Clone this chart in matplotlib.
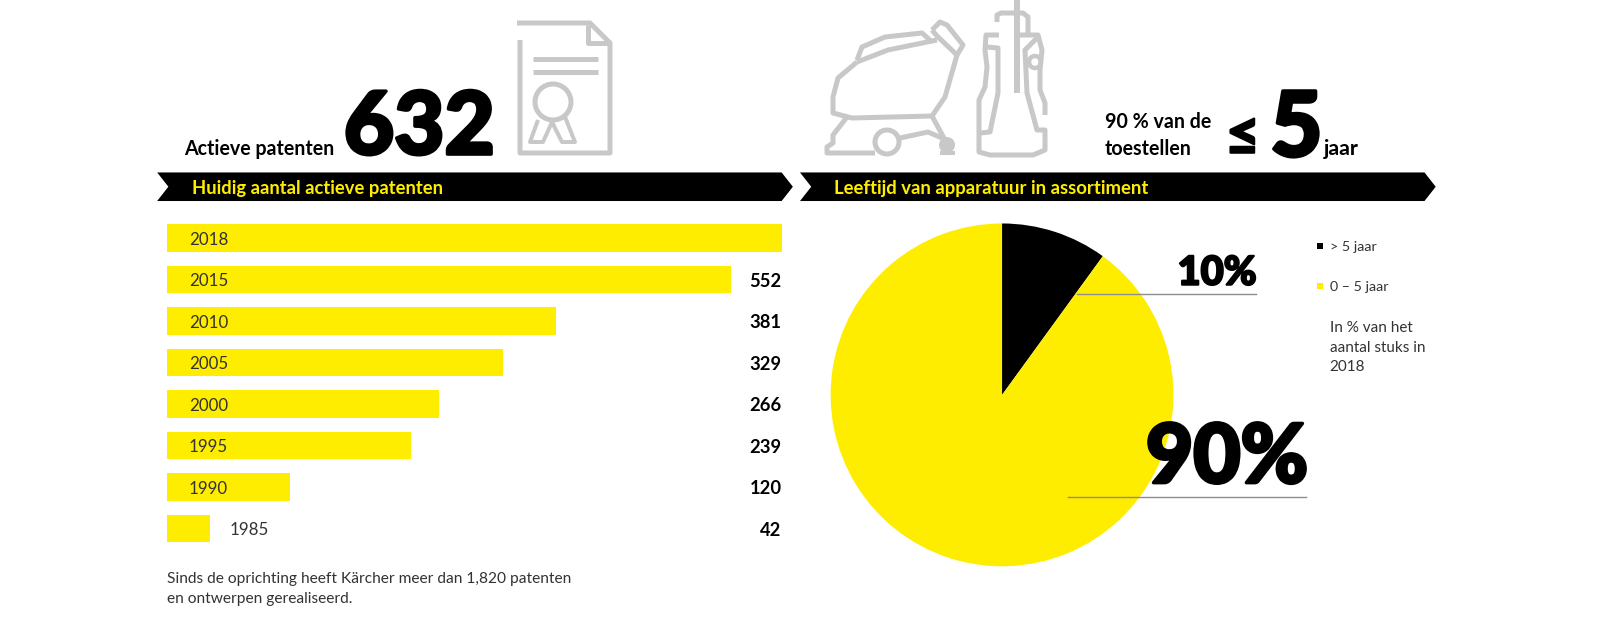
import matplotlib
matplotlib.use("Agg")
import matplotlib.pyplot as plt
import matplotlib.patheffects as pe
from matplotlib.patches import Polygon, Circle, Rectangle

W, H = 1600, 632
VIEW = 1568 / 1600  # layout below was measured on a 1568 wide view of the picture
VW, VH = W * VIEW, H * VIEW
YELLOW = "#FFED00"
GREY = "#C8C8C8"
DARK = "#333333"

# data
years = ["2018", "2015", "2010", "2005", "2000", "1995", "1990", "1985"]
patents = [632, 552, 381, 329, 266, 239, 120, 42]
patent_labels = ["", "552", "381", "329", "266", "239", "120", "42"]
age_labels = ["> 5 jaar", "0 – 5 jaar"]
age_shares = [10, 90]
age_colors = ["black", YELLOW]

plt.rcParams["font.family"] = ["Lato", "DejaVu Sans"]
fig = plt.figure(figsize=(W / 100, H / 100), dpi=100)


def view_axes(x0, y0, x1, y1, **kw):
    return fig.add_axes([x0 / VW, 1 - y1 / VH, (x1 - x0) / VW, (y1 - y0) / VH], **kw)


def fsize(px):
    return px * 0.72 / VIEW


# overlay for ribbons and headings
deco = view_axes(0, 0, VW, VH, zorder=3)
deco.set_xlim(0, VW)
deco.set_ylim(VH, 0)
deco.axis("off")

# icons are traced in real pixels
art = view_axes(0, 0, VW, VH, zorder=3)
art.set_xlim(0, W)
art.set_ylim(H, 0)
art.axis("off")


def txt(x, y, s, size, weight="normal", color="black", ha="left", heavy=0):
    t = deco.text(x, y, s, fontsize=fsize(size), fontweight=weight, color=color, ha=ha, va="baseline")
    if heavy:
        t.set_path_effects([pe.withStroke(linewidth=heavy, foreground=color)])


def ribbon(x0, x1):
    deco.add_patch(Polygon([(x0, 169), (x1 - 11, 169), (x1, 183), (x1 - 11, 197), (x0, 197), (x0 + 11, 183)],
                           fc="black", ec="none"))


def icon(points, lw=5):
    xs = [p[0] for p in points]
    ys = [p[1] for p in points]
    art.plot(xs, ys, color=GREY, lw=lw * 0.72, solid_joinstyle="round", solid_capstyle="butt")


ribbon(154, 777)
ribbon(784, 1407)
txt(188, 190, "Huidig aantal actieve patenten", 18, "bold", YELLOW)
txt(817, 190, "Leeftijd van apparatuur in assortiment", 18.2, "bold", YELLOW)

# left header
txt(180, 152, "Actieve patenten", 19.2, "bold")
txt(337, 151, "632", 85, 900, heavy=2.5)

# certificate icon
icon([(517, 23), (590, 23), (610, 43), (610, 153), (520, 153), (520, 40)])
icon([(588, 25), (588, 43), (610, 43)])
icon([(533, 59), (598, 59)])
icon([(533, 72), (598, 72)])
art.add_patch(Circle((553, 102), 18, fc="none", ec=GREY, lw=3.6))
icon([(538, 120), (530, 142), (543, 142), (552, 122), (562, 142), (575, 142), (565, 117)], 4)

# sweeper icon
icon([(857, 60), (862, 47), (885, 37), (922, 33), (932, 42)])
icon([(857, 62), (888, 50), (937, 40)])
icon([(857, 62), (838, 78), (833, 97), (833, 113), (852, 118), (932, 116), (945, 97), (957, 55)])
icon([(847, 117), (833, 135), (833, 143), (827, 147), (827, 153), (875, 153)])
icon([(932, 30), (940, 22), (947, 25), (963, 45), (957, 55), (937, 36), (932, 30)])
icon([(932, 116), (945, 140)])
icon([(900, 138), (928, 132), (942, 138)])
art.add_patch(Circle((887, 142), 12, fc="none", ec=GREY, lw=3.6))
art.add_patch(Circle((947, 145), 8, fc=GREY, ec="none"))
icon([(940, 153), (955, 153)], 4)

# pressure washer icon
icon([(1017, 0), (1017, 93)], 6)
icon([(997, 22), (997, 15), (1001, 13), (1023, 13), (1028, 17), (1028, 33)])
icon([(999, 35), (986, 35), (985, 50), (987, 67), (985, 87), (979, 100), (979, 152), (990, 155), (1033, 155),
      (1045, 150), (1045, 130), (1037, 130), (1027, 93), (1025, 50), (1037, 38)])
icon([(1018, 35), (1038, 35), (1042, 50), (1040, 70), (1040, 90), (1045, 103), (1045, 115)])
icon([(987, 47), (998, 48), (998, 93), (990, 132), (980, 133)])
art.add_patch(Circle((1035, 62), 6, fc="white", ec=GREY, lw=3.2))

# right header
txt(1083, 125, "90 % van de", 19.2, "bold")
txt(1083, 152, "toestellen", 19.2, "bold")
txt(1201, 152, "≤", 58, 900, heavy=1.5)
txt(1245, 153, "5", 88, 900, heavy=2.5)
txt(1297, 152, "jaar", 21, "bold")

# bars
ax = view_axes(164, 213, 766, 538, zorder=2)
ypos = list(range(len(years)))
ax.barh(ypos, patents, height=0.66, color=YELLOW)
ax.set_xlim(0, 602)  # 2018 bar runs off the panel
ax.set_ylim(7.49, -0.5)
ax.axis("off")
for i, (year, value, label) in enumerate(zip(years, patents, patent_labels)):
    x = value + 19 if value < 60 else 21
    ax.text(x, i + 0.04, year, fontsize=fsize(16.5), va="center", color=DARK)
    ax.text(602, i + 0.04, label, fontsize=fsize(18), fontweight="bold", va="center", ha="right")

txt(164, 571, "Sinds de oprichting heeft Kärcher meer dan 1,820 patenten", 15.2, "normal", DARK)
txt(164, 591, "en ontwerpen gerealiseerd.", 15.2, "normal", DARK)

# pie
pie_ax = view_axes(814, 219, 1150, 555, zorder=2)
pie_ax.pie(age_shares, colors=age_colors, startangle=90, counterclock=False, radius=1)
pie_ax.set_xlim(-1, 1)
pie_ax.set_ylim(-1, 1)

deco.plot([1055, 1231], [288, 288], color="#8c8c8c", lw=1)
deco.plot([1047, 1280], [487, 487], color="#8c8c8c", lw=1)
txt(1154, 279, f"{age_shares[0]}%", 39, 900, heavy=1.5)
txt(1123, 473, f"{age_shares[1]}%", 80, 900, heavy=2.5)

# legend
for y, label, color in zip([241, 280], age_labels, age_colors):
    deco.add_patch(Rectangle((1291, y - 3), 6, 6, fc=color, ec="none"))
    txt(1303, y + 5, label, 14, "normal", DARK)
for y, line in zip([325, 345, 364], ["In % van het", "aantal stuks in", "2018"]):
    txt(1303, y, line, 15, "normal", DARK)

fig.savefig("out.png", dpi=100)
